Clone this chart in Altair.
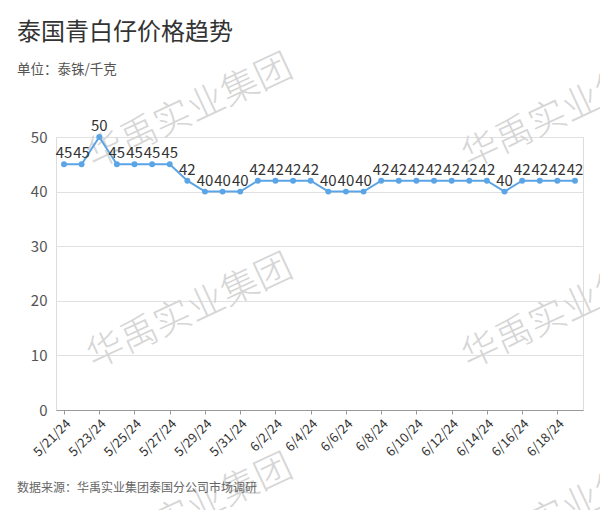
import altair as alt
import pandas as pd

dates = ["5/21/24", "5/22/24", "5/23/24", "5/24/24", "5/25/24", "5/26/24", "5/27/24",
         "5/28/24", "5/29/24", "5/30/24", "5/31/24", "6/1/24", "6/2/24", "6/3/24",
         "6/4/24", "6/5/24", "6/6/24", "6/7/24", "6/8/24", "6/9/24", "6/10/24",
         "6/11/24", "6/12/24", "6/13/24", "6/14/24", "6/15/24", "6/16/24", "6/17/24",
         "6/18/24", "6/19/24"]
prices = [45, 45, 50, 45, 45, 45, 45, 42, 40, 40, 40, 42, 42, 42, 42, 40, 40, 40,
          42, 42, 42, 42, 42, 42, 42, 40, 42, 42, 42, 42]
tick_dates = dates[::2]
y_ticks = [0, 10, 20, 30, 40, 50]

title_text = "泰国青白仔价格趋势"
subtitle_text = "单位：泰铢/千克"
footer_text = "数据来源：华禹实业集团泰国分公司市场调研"
watermark_text = "华禹实业集团"

FONT = "Noto Sans CJK SC"
BLUE = "#5ba4e6"

df = pd.DataFrame({"date": dates, "price": prices})

x_enc = alt.X("date:O", sort=None,
              scale=alt.Scale(type="point", domain=dates, padding=0.454),
              axis=alt.Axis(values=tick_dates, labelAngle=-45, title=None,
                            labelFontSize=13, labelColor="#333", labelFont=FONT,
                            domainColor="#999", tickColor="#999", tickSize=4,
                            labelPadding=3, grid=False))
y_enc = alt.Y("price:Q",
              scale=alt.Scale(domain=[0, 50], nice=False),
              axis=alt.Axis(values=y_ticks, title=None, domain=False, ticks=False,
                            labelFontSize=15, labelColor="#555", labelFont=FONT,
                            labelPadding=9, gridColor="#e0e0e0"))

base = alt.Chart(df)
line = base.mark_line(color=BLUE, strokeWidth=2).encode(x=x_enc, y=y_enc)
pts = base.mark_point(filled=True, color=BLUE, size=35, opacity=1).encode(x=x_enc, y=y_enc)
labels = base.mark_text(fontSize=15, color="#333", baseline="bottom", dy=-3, font=FONT).encode(
    x=x_enc, y=y_enc, text="price:Q")


def static_text(txt, x, y, size, color, **kw):
    return alt.Chart(pd.DataFrame({"t": [txt]})).mark_text(
        fontSize=size, color=color, font=FONT, **kw).encode(
        x=alt.value(x), y=alt.value(y), text="t:N")


wm_layers = []
for wx in [134, 509]:
    for wy in [-25, 175, 375]:
        wm_layers.append(static_text(watermark_text, wx, wy, 37, "#d6d6d6",
                                     angle=335, align="center", baseline="middle",
                                     fontWeight=300))

title = static_text(title_text, -39, -104, 24, "#333", align="left", baseline="middle")
subtitle = static_text(subtitle_text, -39, -67, 13.5, "#555", align="left", baseline="middle")
footer = static_text(footer_text, -39, 351, 12, "#666", align="left", baseline="middle")

chart = alt.layer(*wm_layers, line, pts, labels, title, subtitle, footer).properties(
    width=527, height=273,
    autosize=alt.AutoSizeParams(type="none"),
    padding={"left": 56, "top": 137, "right": 17, "bottom": 100},
).configure_view(stroke=None).configure(background="white")

chart.save("out.html", embed_options={"renderer": "svg", "actions": False})
